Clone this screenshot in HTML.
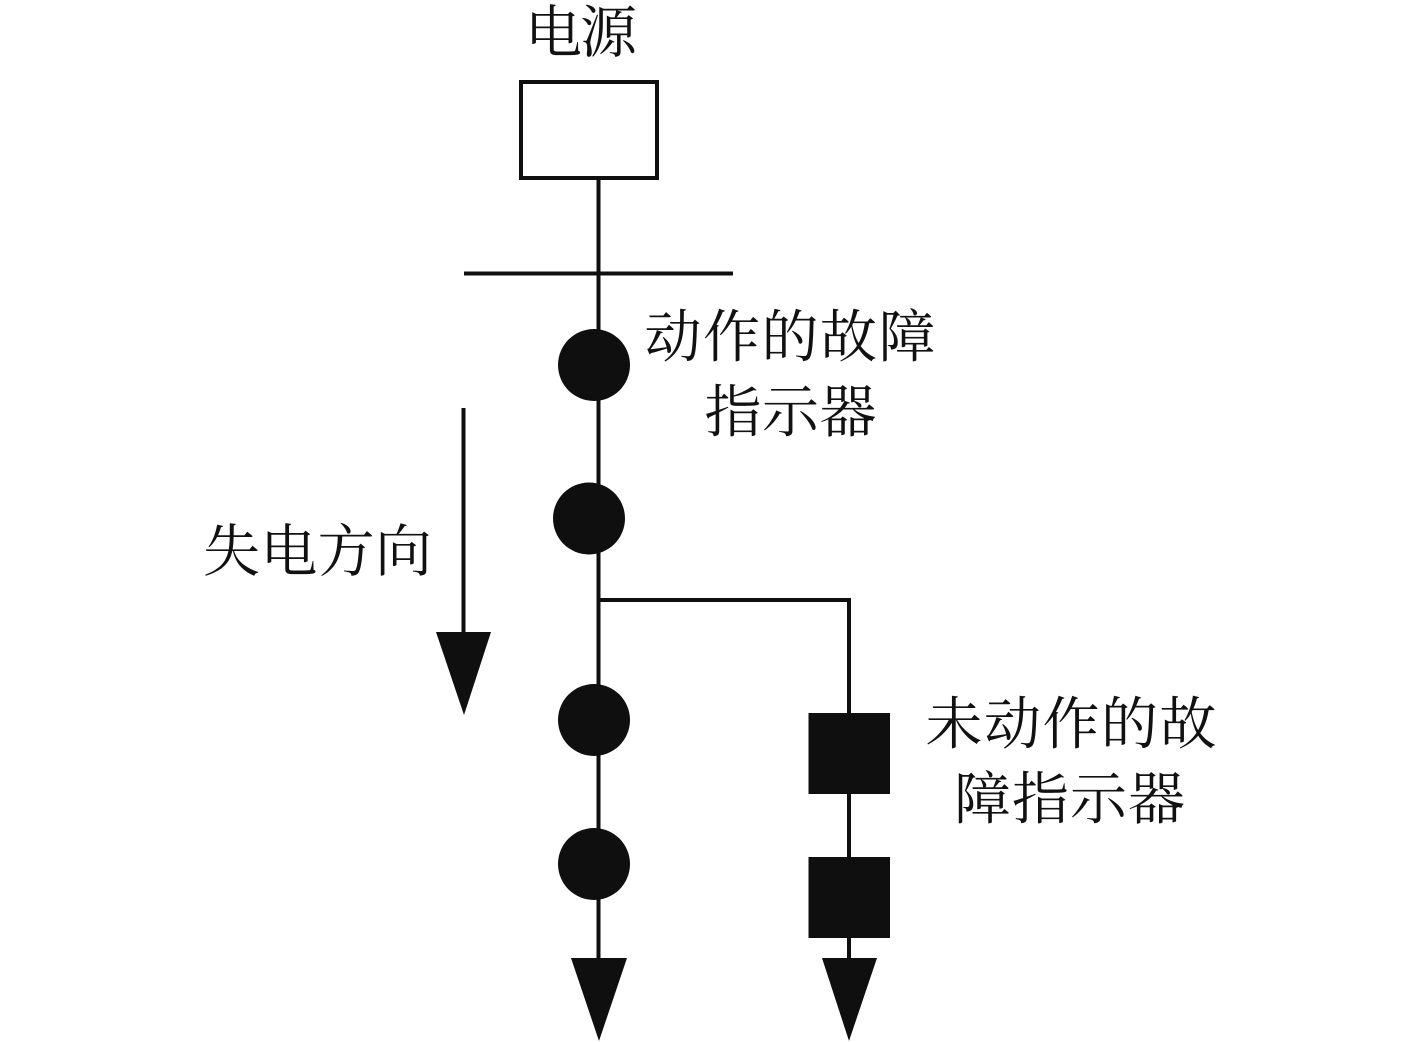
<!DOCTYPE html>
<html>
<head>
<meta charset="utf-8">
<style>
html,body{margin:0;padding:0;background:#fff;}
svg{display:block;}
text{font-family:"Liberation Serif","Noto Serif CJK SC",serif;font-size:57px;fill:#111;}
</style>
</head>
<body>
<svg width="1417" height="1042" viewBox="0 0 1417 1042" xmlns="http://www.w3.org/2000/svg">
<rect width="1417" height="1042" fill="#fff"/>
<rect x="521" y="82" width="136" height="96" fill="none" stroke="#0f0f0f" stroke-width="4"/>
<line x1="598.500" y1="178" x2="598.500" y2="965" stroke="#0f0f0f" stroke-width="4"/>
<line x1="464" y1="273.500" x2="733" y2="273.500" stroke="#0f0f0f" stroke-width="4"/>
<circle cx="594" cy="365" r="36" fill="#0f0f0f"/>
<circle cx="589" cy="518.500" r="36" fill="#0f0f0f"/>
<circle cx="594" cy="720" r="36" fill="#0f0f0f"/>
<circle cx="594" cy="864" r="36" fill="#0f0f0f"/>
<polyline points="598,600 849,600 849,965" fill="none" stroke="#0f0f0f" stroke-width="4"/>
<rect x="808.500" y="713" width="81.500" height="81" fill="#0f0f0f"/>
<rect x="808.500" y="857" width="81.500" height="81" fill="#0f0f0f"/>
<polygon points="571,958 627,958 599,1041" fill="#0f0f0f"/>
<polygon points="822,958 877,958 849,1041" fill="#0f0f0f"/>
<line x1="463.500" y1="408" x2="463.500" y2="640" stroke="#0f0f0f" stroke-width="4"/>
<polygon points="436,632 491,632 464,715" fill="#0f0f0f"/>
<text x="525" y="52" textLength="112">电源</text>
<text x="644.500" y="356.500" textLength="291">动作的故障</text>
<text x="704.500" y="431.500" textLength="172">指示器</text>
<text x="203" y="571" textLength="229">失电方向</text>
<text x="925.500" y="743.500" textLength="291">未动作的故</text>
<text x="954" y="818.500" textLength="231">障指示器</text>
</svg>
</body>
</html>
